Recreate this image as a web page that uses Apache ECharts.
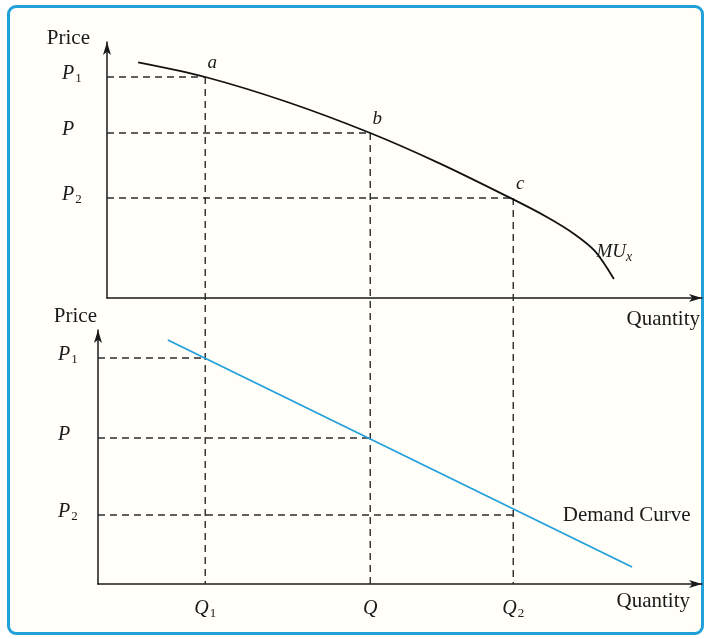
<!DOCTYPE html>
<html>
<head>
<meta charset="utf-8">
<script src="https://cdn.jsdelivr.net/npm/echarts@6/dist/echarts.min.js"></script>
<style>
html, body { margin: 0; padding: 0; background: #fff; }
#frame {
    position: absolute; left: 7px; top: 5px; width: 691px; height: 624px;
    border: 3px solid #22a0da; border-radius: 9px; background: #fffef8;
}
#main { position: absolute; left: 0; top: 0; width: 707px; height: 639px; }
</style>
</head>
<body>
<div id="frame"></div>
<div id="main"></div>
<script>
var myChart = echarts.init(document.getElementById('main'));

// quantities shared by both panels
var qValues = [1.95, 4.95, 7.55];
var qLabels = ['Q1', 'Q', 'Q2'];
var priceLabels = ['P1', 'P', 'P2'];

// top panel: marginal utility
var topPrices = [11.05, 8.25, 5.0];
var muCurve = [[0.73, 11.78], [1.95, 11.05], [3.44, 9.8], [4.95, 8.25], [6.22, 6.72],
               [7.55, 4.93], [8.16, 4.05], [8.67, 3.18], [9.04, 2.33], [9.38, 0.95]];
var pointNames = ['a', 'b', 'c'];
var muLabelAt = [9.1, 2.3];

// bottom panel: demand
var bottomPrices = [11.3, 7.3, 3.45];
var demandLine = [[1.27, 12.2], [9.71, 0.85]];
var demandLabelAt = [8.45, 3.45];

var SERIF = "'Liberation Serif', 'DejaVu Serif', serif";
var INK = '#1a1a1a';
var topGrid = {left: 107, top: 42, width: 595, height: 256};
var botGrid = {left: 98, top: 330, width: 604, height: 254};
var xScale = 55;   // px per quantity unit, same in both panels
var topYMax = 12.8, botYMax = 12.7;
var xMaxBot = botGrid.width / xScale;
var xMinTop = (topGrid.left - botGrid.left) / xScale;
// how far below the top x axis the bottom x axis sits, in top-panel units
var dropUnits = ((botGrid.top + botGrid.height) - (topGrid.top + topGrid.height)) / (topGrid.height / topYMax);

var rich = {
    i: {fontFamily: SERIF, fontStyle: 'italic', fontSize: 20, lineHeight: 20, verticalAlign: 'top', color: INK},
    s: {fontFamily: SERIF, fontSize: 13, lineHeight: 13, verticalAlign: 'top', padding: [8, 0, 0, 1], color: INK}
};
function sub(txt) {
    var m = txt.match(/^([A-Za-z]+)(.*)$/);
    return '{i|' + m[1] + '}' + (m[2] ? '{s|' + m[2] + '}' : '');
}
function labelFor(values, labels) {
    return function (v) {
        for (var i = 0; i < values.length; i++) {
            if (Math.abs(values[i] - v) < 1e-6) return sub(labels[i]);
        }
        return '';
    };
}

var axisLineStyle = {
    show: true,
    symbol: ['none', 'arrow'],
    symbolSize: [6, 13],
    lineStyle: {color: INK, width: 1.5}
};
var nameStyle = {fontFamily: SERIF, fontSize: 21, color: INK};
var dash = {color: '#2b2b2b', width: 1.4, type: [7, 5]};

function guide(idx, pts, clip) {
    return {
        type: 'line', xAxisIndex: idx, yAxisIndex: idx, data: pts,
        showSymbol: false, silent: true, clip: clip !== false, z: 1,
        lineStyle: dash
    };
}

var series = [];
for (var i = 0; i < qValues.length; i++) {
    series.push(guide(0, [[xMinTop, topPrices[i]], [qValues[i], topPrices[i]]]));
    series.push(guide(0, [[qValues[i], topPrices[i]], [qValues[i], -dropUnits]], false));
    series.push(guide(1, [[0, bottomPrices[i]], [qValues[i], bottomPrices[i]]]));
}

series.push({
    name: 'MUx', type: 'line', xAxisIndex: 0, yAxisIndex: 0,
    data: muCurve, smooth: 0.3, showSymbol: false, z: 3,
    lineStyle: {color: '#111', width: 1.8}
});
series.push({
    name: 'Demand', type: 'line', xAxisIndex: 1, yAxisIndex: 1,
    data: demandLine, showSymbol: false, z: 3,
    lineStyle: {color: '#22a0dc', width: 1.8}
});

var textItem = {opacity: 1};
// point letters a, b, c
series.push({
    type: 'scatter', xAxisIndex: 0, yAxisIndex: 0, symbolSize: 0, z: 4, itemStyle: textItem,
    data: qValues.map(function (q, i) { return {value: [q, topPrices[i]], name: pointNames[i]}; }),
    label: {
        show: true, position: 'top', distance: 5, offset: [7, 0], opacity: 1,
        formatter: function (p) { return p.name; },
        fontFamily: SERIF, fontStyle: 'italic', fontSize: 19, color: INK
    }
});
series.push({
    type: 'scatter', xAxisIndex: 0, yAxisIndex: 0, symbolSize: 0, z: 4, itemStyle: textItem,
    data: [muLabelAt],
    label: {
        show: true, position: 'right', distance: -2, opacity: 1,
        formatter: '{i|MU}{s|x}',
        rich: {
            i: {fontFamily: SERIF, fontStyle: 'italic', fontSize: 19, lineHeight: 20, verticalAlign: 'top', color: INK},
            s: {fontFamily: SERIF, fontStyle: 'italic', fontSize: 14, lineHeight: 14, verticalAlign: 'top', padding: [8, 0, 0, 0], color: INK}
        }
    }
});
series.push({
    type: 'scatter', xAxisIndex: 1, yAxisIndex: 1, symbolSize: 0, z: 4, itemStyle: textItem,
    data: [demandLabelAt],
    label: {
        show: true, position: 'right', distance: 0, opacity: 1,
        formatter: 'Demand Curve',
        fontFamily: SERIF, fontSize: 21, color: INK
    }
});

option = {
    animation: false,
    backgroundColor: 'transparent',
    grid: [topGrid, botGrid],
    xAxis: [
        {
            gridIndex: 0, type: 'value', min: xMinTop, max: xMaxBot,
            axisLine: axisLineStyle, axisTick: {show: false}, splitLine: {show: false},
            axisLabel: {show: false},
            name: 'Quantity', nameLocation: 'end', nameGap: -2,
            nameTextStyle: Object.assign({align: 'right', verticalAlign: 'top', padding: [11, 0, 0, 0]}, nameStyle)
        },
        {
            gridIndex: 1, type: 'value', min: 0, max: xMaxBot,
            axisLine: axisLineStyle, axisTick: {show: false}, splitLine: {show: false},
            axisLabel: {
                show: true, customValues: qValues, margin: 15,
                formatter: labelFor(qValues, qLabels), rich: rich
            },
            name: 'Quantity', nameLocation: 'end', nameGap: -12,
            nameTextStyle: Object.assign({align: 'right', verticalAlign: 'top', padding: [7, 0, 0, 0]}, nameStyle)
        }
    ],
    yAxis: [
        {
            gridIndex: 0, type: 'value', min: 0, max: topYMax,
            axisLine: axisLineStyle, axisTick: {show: false}, splitLine: {show: false},
            axisLabel: {
                show: true, customValues: topPrices, margin: 45, align: 'left',
                padding: [0, 0, 6, 0],
                formatter: labelFor(topPrices, priceLabels), rich: rich
            },
            name: 'Price', nameLocation: 'end', nameGap: -7,
            nameTextStyle: Object.assign({align: 'right', verticalAlign: 'bottom', padding: [0, 17, 0, 0]}, nameStyle)
        },
        {
            gridIndex: 1, type: 'value', min: 0, max: botYMax,
            axisLine: axisLineStyle, axisTick: {show: false}, splitLine: {show: false},
            axisLabel: {
                show: true, customValues: bottomPrices, margin: 40, align: 'left',
                padding: [0, 0, 6, 0],
                formatter: labelFor(bottomPrices, priceLabels), rich: rich
            },
            name: 'Price', nameLocation: 'end', nameGap: 3,
            nameTextStyle: Object.assign({align: 'right', verticalAlign: 'bottom', padding: [0, 1, 0, 0]}, nameStyle)
        }
    ],
    series: series
};

myChart.setOption(option);
window.onresize = function () {
    if (myChart) {
        myChart.resize();
    }
};
</script>
</body>
</html>
